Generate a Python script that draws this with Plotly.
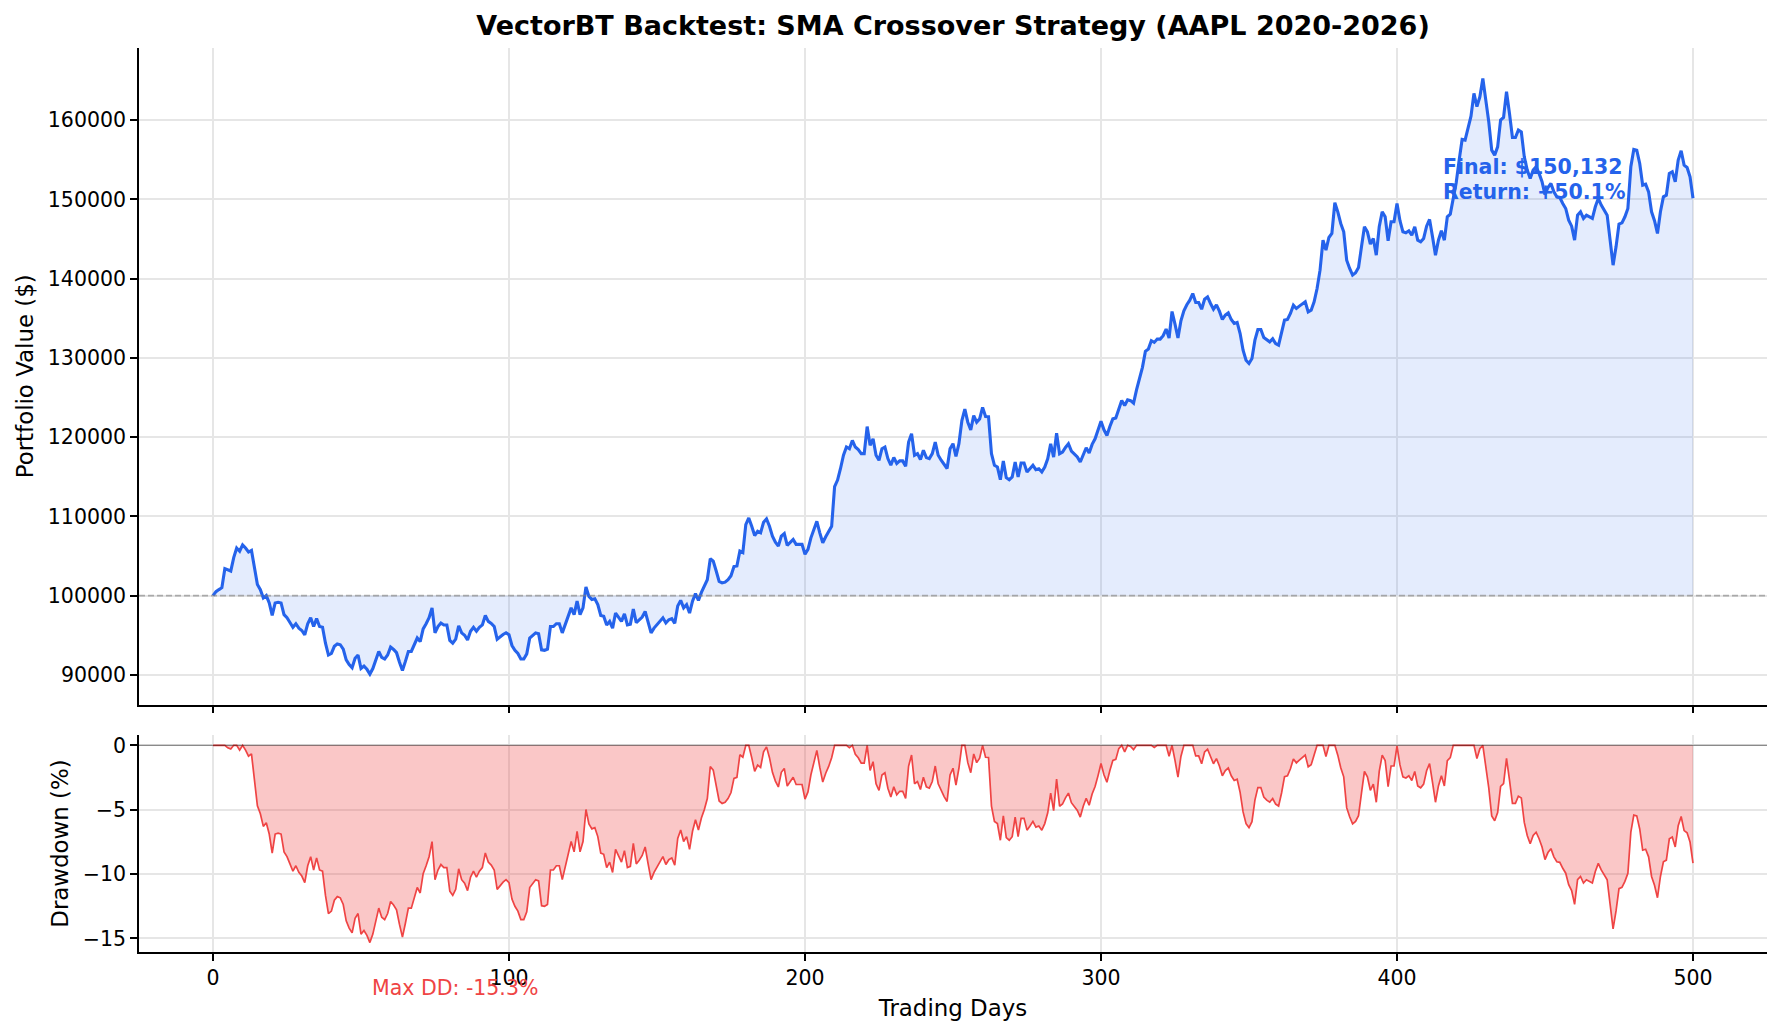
import numpy as np
import plotly.graph_objects as go

# ---------------- data ----------------
days = list(range(501))
portfolio_value = [
    100000, 100500, 100760, 101000, 103400, 103200, 103100, 104800, 106000, 105600,
    106400, 106000, 105500, 105700, 103300, 101400, 100750, 99700, 100000, 99070,
    97500, 99070, 99150, 99070, 97600, 97200, 96600, 96000, 96450, 95900,
    95600, 95060, 96450, 97200, 96100, 97100, 96100, 96000, 94000, 92500,
    92700, 93600, 93900, 93800, 93250, 91900, 91300, 90900, 92100, 92500,
    90800, 91100, 90700, 90100, 90800, 92000, 92950, 92200, 92000, 92500,
    93500, 93200, 92800, 91600, 90550, 91700, 92950, 92950, 93900, 94650,
    94200, 95800, 96450, 97200, 98450, 95300, 96100, 96550, 96300, 96300,
    94350, 94000, 94500, 96200, 95300, 95000, 94400, 95500, 96000, 95500,
    96000, 96300, 97500, 96750, 96500, 96100, 94500, 94850, 95100, 95300,
    95060, 93700, 93100, 92700, 92000, 92000, 92650, 94650, 94950, 95300,
    95200, 93150, 93100, 93250, 96100, 96100, 96450, 96450, 95300, 96300,
    97400, 98450, 97600, 99300, 97600, 98450, 101100, 99900, 99500, 99600,
    98860, 97500, 97400, 96300, 96750, 95900, 97800, 97200, 96750, 97700,
    96300, 96400, 98300, 96600, 96900, 97300, 98000, 96600, 95300, 95900,
    96300, 96700, 97200, 96550, 96950, 97100, 96500, 98700, 99400, 98450,
    98860, 97800, 99300, 100250, 99400, 100400, 101100, 102000, 104650, 104350,
    103100, 101800, 101600, 101700, 102000, 102500, 103670, 103750, 105620, 105420,
    108960, 109800, 108750, 107580, 108120, 107920, 109250, 109670, 108750, 107500,
    106750, 106250, 107500, 107830, 106330, 106670, 107080, 106460, 106460, 106460,
    105210, 105830, 107290, 108300, 109370, 107920, 106670, 107420, 108000, 108750,
    113750, 114580, 116040, 117710, 118750, 118540, 119580, 118750, 118420, 117920,
    117920, 121330, 118960, 119790, 117710, 117080, 118540, 118750, 117290, 116460,
    117420, 116670, 117000, 117000, 116330, 119380, 120420, 117710, 117920, 117170,
    118330, 117420, 117290, 117920, 119380, 117710, 117080, 116500, 116040, 118540,
    119170, 117580, 119170, 122080, 123540, 121880, 120920, 122710, 121880, 122300,
    123750, 122600, 122580, 117900, 116440, 116230, 114630, 116980, 114880, 114630,
    114970, 116860, 114970, 116730, 116730, 115600, 116000, 116440, 115890, 116000,
    115600, 116230, 117270, 119160, 117480, 120500, 117900, 118110, 118700, 119160,
    118240, 117900, 117500, 116860, 117900, 118660, 117990, 119080, 119790, 120840,
    122010, 120920, 120210, 121340, 122300, 122400, 123440, 124610, 123980, 124700,
    124600, 124280, 125950, 127340, 128810, 130820, 131110, 132160, 131950, 132370,
    132370, 132790, 133630, 132500, 135850, 134260, 132500, 134680, 135930, 136700,
    137280, 138110, 136980, 136980, 136140, 137400, 137690, 136860, 136140, 136690,
    135900, 134840, 135400, 135680, 134840, 134340, 134470, 133070, 130970, 129710,
    129290, 129920, 132230, 133580, 133580, 132570, 132230, 132020, 132400, 131810,
    131600, 133000, 134760, 134840, 135600, 136650, 136230, 136530, 136780, 137070,
    135810, 136020, 137070, 138750, 141070, 144850, 143590, 145190, 145700, 149570,
    148430, 146960, 145910, 142330, 141280, 140440, 140730, 141400, 144010, 146540,
    145910, 144350, 145070, 142960, 146540, 148430, 147800, 144770, 147170, 147170,
    149480, 147300, 145910, 145780, 146030, 145490, 146540, 144850, 144640, 145070,
    146620, 147460, 145280, 142960, 144850, 146030, 144850, 147800, 148140, 150110,
    152090, 154950, 157560, 157480, 159160, 160500, 163370, 161700, 162940, 165260,
    162520, 159790, 156210, 155580, 156630, 160000, 160340, 163580, 160840, 157810,
    157810, 158740, 158500, 155370, 153690, 152640, 153690, 154110, 153270, 152220,
    150600, 151500, 152000, 150950, 150320, 150240, 149480, 148850, 147380, 146620,
    144850, 148010, 148430, 147590, 148010, 147800, 147590, 149060, 150110, 149270,
    148640, 148010, 144850, 141700, 144010, 146870, 147040, 147800, 148850, 154110,
    156300, 156200, 154530, 151800, 151920, 150950, 148430, 147300, 145700, 148430,
    150320, 150530, 153270, 153480, 152220, 154950, 156130, 154320, 154030, 152850,
    150132,
]
initial_capital = 100000
x_ticks = [0, 100, 200, 300, 400, 500]
value_ticks = [90000, 100000, 110000, 120000, 130000, 140000, 150000, 160000]
value_tick_labels = [str(v) for v in value_ticks]
dd_ticks = [0, -5, -10, -15]
dd_tick_labels = ["0", "\u22125", "\u221210", "\u221215"]

title_text = "VectorBT Backtest: SMA Crossover Strategy (AAPL 2020-2026)"
final_lines = ["Final: $150,132", "Return: +50.1%"]
maxdd_text = "Max DD: -15.3%"
maxdd_day = 53
final_label_day = 415

# ---------------- derived ----------------
values = np.array(portfolio_value, dtype=float)
drawdown = (values / np.maximum.accumulate(values) - 1.0) * 100.0

BLUE = "#2563eb"
RED = "#ef4444"
GRID = "#e6e6e6"
FONT = "DejaVu Sans"

fig = go.Figure()

fig.add_trace(go.Scatter(
    x=days, y=[initial_capital] * len(days), mode="lines",
    line=dict(width=0, color="rgba(0,0,0,0)"), hoverinfo="skip",
    showlegend=False, xaxis="x", yaxis="y"))
fig.add_trace(go.Scatter(
    x=days, y=portfolio_value, mode="lines",
    line=dict(color=BLUE, width=3.1), fill="tonexty",
    fillcolor="rgba(37,99,235,0.12)", showlegend=False,
    xaxis="x", yaxis="y"))
fig.add_trace(go.Scatter(
    x=days, y=drawdown, mode="lines",
    line=dict(color=RED, width=1.7), fill="tozeroy",
    fillcolor="rgba(239,68,68,0.3)", showlegend=False,
    xaxis="x2", yaxis="y2"))

axis_common = dict(
    showline=True, linecolor="black", linewidth=1.6,
    ticks="outside", ticklen=7, tickwidth=1.6, tickcolor="black",
    showgrid=True, gridcolor=GRID, gridwidth=1.6, zeroline=False,
    tickfont=dict(family=FONT, size=20.5, color="black"),
)

fig.update_layout(
    width=1782, height=1035,
    margin=dict(l=139, r=15, t=48, b=83),
    paper_bgcolor="white", plot_bgcolor="white",
    showlegend=False,
    font=dict(family=FONT, color="black"),
    title=dict(text="<b>" + title_text + "</b>", x=0.5, xref="paper",
               xanchor="center", y=1 - 26 / 1035, yref="container",
               yanchor="middle", font=dict(family=FONT, size=27, color="black")),
    xaxis=dict(domain=[0, 1], anchor="y", range=[-25, 525],
               tickvals=x_ticks, showticklabels=False, **axis_common),
    yaxis=dict(domain=[0.2737, 1], anchor="x", range=[86250, 169100],
               tickvals=value_ticks, ticktext=value_tick_labels,
               title=dict(text="Portfolio Value ($)", standoff=8,
                          font=dict(family=FONT, size=22.9, color="black")),
               **axis_common),
    xaxis2=dict(domain=[0, 1], anchor="y2", range=[-25, 525],
                tickvals=x_ticks, ticktext=[str(t) for t in x_ticks],
                title=dict(text="Trading Days", standoff=11,
                           font=dict(family=FONT, size=22.9, color="black")),
                **axis_common),
    yaxis2=dict(domain=[0, 0.24], anchor="x2", range=[-16.05, 0.8],
                tickvals=dd_ticks, ticktext=dd_tick_labels,
                title=dict(text="Drawdown (%)", standoff=8,
                           font=dict(family=FONT, size=22.9, color="black")),
                **axis_common),
    shapes=[
        dict(type="line", xref="x domain", yref="y", x0=0, x1=1,
             y0=initial_capital, y1=initial_capital,
             line=dict(color="rgba(128,128,128,0.6)", width=1.6, dash="6px,3px")),
        dict(type="line", xref="x2 domain", yref="y2", x0=0, x1=1, y0=0, y1=0,
             line=dict(color="rgba(0,0,0,0.4)", width=1.2)),
    ],
    annotations=[
        dict(text="<b>" + final_lines[0] + "</b>", x=final_label_day, y=values[-1],
             xref="x", yref="y", xanchor="left", yanchor="bottom",
             showarrow=False, align="left", yshift=17,
             font=dict(family=FONT, size=20.5, color=BLUE)),
        dict(text="<b>" + final_lines[1] + "</b>", x=final_label_day, y=values[-1],
             xref="x", yref="y", xanchor="left", yanchor="bottom",
             showarrow=False, align="left", yshift=-8,
             font=dict(family=FONT, size=20.5, color=BLUE)),
        dict(text=maxdd_text, x=maxdd_day, y=-0.0398, xref="x2", yref="paper",
             xanchor="left", yanchor="middle", showarrow=False,
             font=dict(family=FONT, size=20.5, color=RED)),
    ],
)

fig.write_html("out.html")
